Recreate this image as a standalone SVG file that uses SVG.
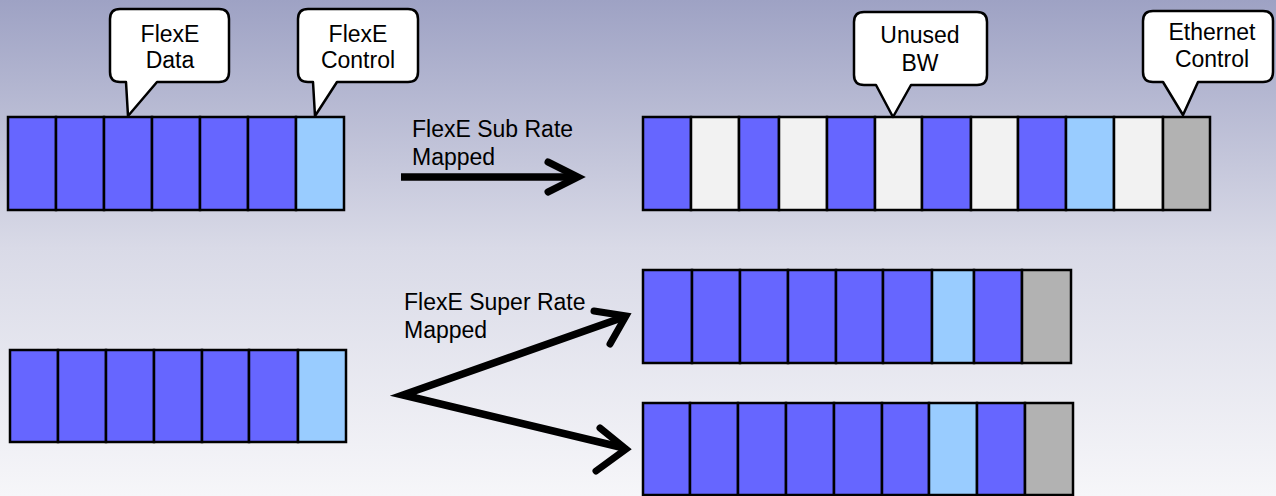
<svg xmlns="http://www.w3.org/2000/svg" width="1276" height="496" viewBox="0 0 1276 496">
  <defs>
    <linearGradient id="bg" x1="0" y1="0" x2="0" y2="1">
      <stop offset="0" stop-color="#9ea2c4"/>
      <stop offset="0.5" stop-color="#d9dae7"/>
      <stop offset="1" stop-color="#f6f6f9"/>
    </linearGradient>
  </defs>
  <style>
    .cell { stroke: #000; stroke-width: 2.5; }
    .d { fill: #6666ff; }
    .c { fill: #99ccff; }
    .u { fill: #f2f2f2; }
    .e { fill: #b2b2b2; }
    .callout { fill: #fff; stroke: #000; stroke-width: 2.5; stroke-linejoin: round; }
    .lbl { font-family: "Liberation Sans", Arial, sans-serif; font-size: 23px; fill: #000; }
    .mid { text-anchor: middle; }
    .arrow { fill: none; stroke: #000; stroke-width: 7.5; stroke-linejoin: miter; }
    .head { fill: none; stroke: #000; stroke-width: 7; stroke-linecap: round; stroke-linejoin: miter; }
  </style>

  <rect x="0" y="0" width="1276" height="496" fill="url(#bg)"/>

  <!-- FlexE client, sub-rate source -->
  <g id="row-sub-source">
    <rect class="cell d" x="8" y="117" width="48" height="93"/>
    <rect class="cell d" x="56" y="117" width="48" height="93"/>
    <rect class="cell d" x="104" y="117" width="48" height="93"/>
    <rect class="cell d" x="152" y="117" width="48" height="93"/>
    <rect class="cell d" x="200" y="117" width="48" height="93"/>
    <rect class="cell d" x="248" y="117" width="48" height="93"/>
    <rect class="cell c" x="296" y="117" width="48" height="93"/>
  </g>

  <!-- Sub-rate mapped Ethernet -->
  <g id="row-sub-mapped">
    <rect class="cell d" x="643" y="117" width="48" height="93"/>
    <rect class="cell u" x="691" y="117" width="48" height="93"/>
    <rect class="cell d" x="739" y="117" width="40" height="93"/>
    <rect class="cell u" x="779" y="117" width="48" height="93"/>
    <rect class="cell d" x="827" y="117" width="48" height="93"/>
    <rect class="cell u" x="875" y="117" width="47" height="93"/>
    <rect class="cell d" x="922" y="117" width="49" height="93"/>
    <rect class="cell u" x="971" y="117" width="47" height="93"/>
    <rect class="cell d" x="1018" y="117" width="48" height="93"/>
    <rect class="cell c" x="1066" y="117" width="48" height="93"/>
    <rect class="cell u" x="1114" y="117" width="49" height="93"/>
    <rect class="cell e" x="1163" y="117" width="47" height="93"/>
  </g>

  <!-- FlexE client, super-rate source -->
  <g id="row-super-source">
    <rect class="cell d" x="10" y="350" width="48" height="92"/>
    <rect class="cell d" x="58" y="350" width="48" height="92"/>
    <rect class="cell d" x="106" y="350" width="48" height="92"/>
    <rect class="cell d" x="154" y="350" width="48" height="92"/>
    <rect class="cell d" x="202" y="350" width="47" height="92"/>
    <rect class="cell d" x="249" y="350" width="49" height="92"/>
    <rect class="cell c" x="298" y="350" width="48" height="92"/>
  </g>

  <!-- Super-rate mapped Ethernet, first PHY -->
  <g id="row-super-a">
    <rect class="cell d" x="643" y="270" width="49" height="93"/>
    <rect class="cell d" x="692" y="270" width="48" height="93"/>
    <rect class="cell d" x="740" y="270" width="48" height="93"/>
    <rect class="cell d" x="788" y="270" width="48" height="93"/>
    <rect class="cell d" x="836" y="270" width="47" height="93"/>
    <rect class="cell d" x="883" y="270" width="49" height="93"/>
    <rect class="cell c" x="932" y="270" width="42" height="93"/>
    <rect class="cell d" x="974" y="270" width="48" height="93"/>
    <rect class="cell e" x="1022" y="270" width="49" height="93"/>
  </g>

  <!-- Super-rate mapped Ethernet, second PHY -->
  <g id="row-super-b">
    <rect class="cell d" x="643" y="403" width="47" height="92"/>
    <rect class="cell d" x="690" y="403" width="48" height="92"/>
    <rect class="cell d" x="738" y="403" width="48" height="92"/>
    <rect class="cell d" x="786" y="403" width="48" height="92"/>
    <rect class="cell d" x="834" y="403" width="48" height="92"/>
    <rect class="cell d" x="882" y="403" width="47" height="92"/>
    <rect class="cell c" x="929" y="403" width="48" height="92"/>
    <rect class="cell d" x="977" y="403" width="48" height="92"/>
    <rect class="cell e" x="1025" y="403" width="48" height="92"/>
  </g>

  <!-- Callouts -->
  <g id="callout-flexe-data">
    <path class="callout" d="M120,9 H219 Q229,9 229,19 V72 Q229,82 219,82 H157 L128,116 L126,82 H120 Q110,82 110,72 V19 Q110,9 120,9 Z"/>
    <text class="lbl mid" x="170" y="42">FlexE</text>
    <text class="lbl mid" x="170" y="68">Data</text>
  </g>
  <g id="callout-flexe-control">
    <path class="callout" d="M308,9 H408 Q418,9 418,19 V72 Q418,82 408,82 H337 L315,116 L313,82 H308 Q298,82 298,72 V19 Q298,9 308,9 Z"/>
    <text class="lbl mid" x="358" y="42">FlexE</text>
    <text class="lbl mid" x="358" y="68">Control</text>
  </g>
  <g id="callout-unused-bw">
    <path class="callout" d="M864,12 H977 Q987,12 987,22 V75 Q987,85 977,85 H911 L893,117 L876,85 H864 Q854,85 854,75 V22 Q854,12 864,12 Z"/>
    <text class="lbl mid" x="920" y="43">Unused</text>
    <text class="lbl mid" x="920" y="71">BW</text>
  </g>
  <g id="callout-ethernet-control">
    <path class="callout" d="M1153,11 H1263 Q1273,11 1273,21 V72 Q1273,82 1263,82 H1198 L1183,115 L1163,82 H1153 Q1143,82 1143,72 V21 Q1143,11 1153,11 Z"/>
    <text class="lbl mid" x="1212" y="40">Ethernet</text>
    <text class="lbl mid" x="1212" y="67">Control</text>
  </g>

  <!-- Mapping labels -->
  <g id="label-sub">
    <text class="lbl" x="412" y="137">FlexE Sub Rate</text>
    <text class="lbl" x="412" y="165">Mapped</text>
  </g>
  <g id="label-super">
    <text class="lbl" x="404" y="310">FlexE Super Rate</text>
    <text class="lbl" x="404" y="338">Mapped</text>
  </g>

  <!-- Connectors -->
  <g id="connectors">
    <path class="arrow" d="M401,177 H576"/>
    <path class="head" d="M548,162 L578,177 L548,192"/>
    <path class="arrow" d="M624,317 L403,395 L624,448"/>
    <path class="head" d="M594,311 L626,316 L610,344"/>
    <path class="head" d="M600,428 L626,449 L596,471"/>
  </g>
</svg>
